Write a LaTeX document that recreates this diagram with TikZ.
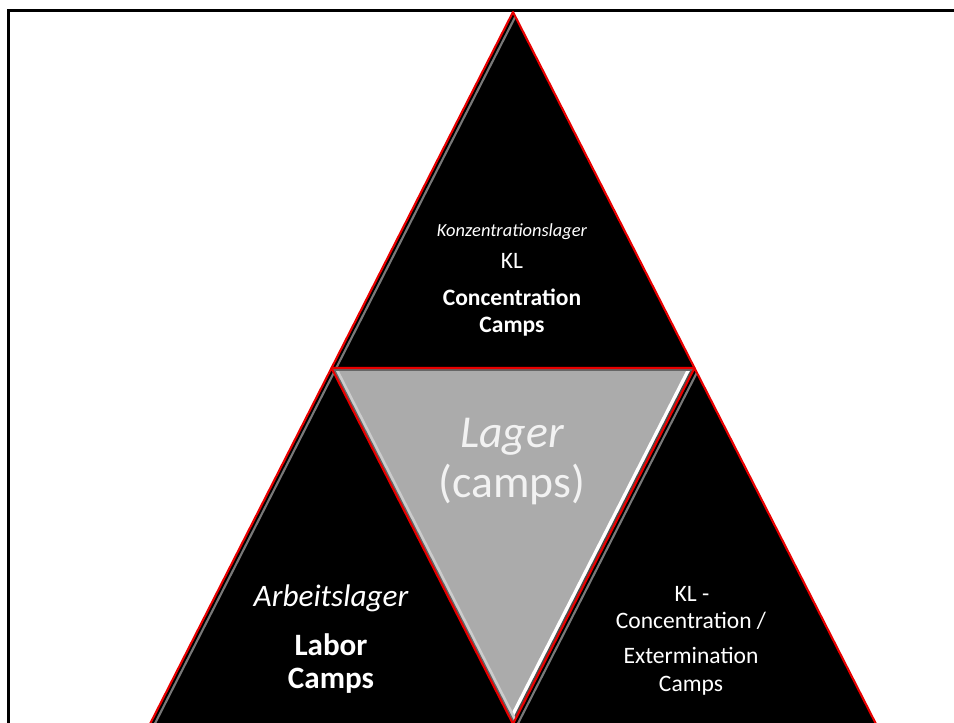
\documentclass[tikz,border=0pt]{standalone}
\usepackage{fontspec}
\setmainfont{Carlito}
\usetikzlibrary{calc}
\definecolor{edgered}{RGB}{232,0,0}
\definecolor{campgray}{RGB}{171,171,171}
\definecolor{bevelgray}{RGB}{120,120,120}
\begin{document}
\begin{tikzpicture}[x=0.02cm,y=-0.02cm,
	edge/.style={draw=edgered,line width=1.2pt,line join=round},
	lbl/.style={text=white,inner sep=0pt,anchor=base}]
	\useasboundingbox (0,0) rectangle (954,723);
	\clip (0,0) rectangle (954,723);
	\draw[line width=1.7pt] (1000,10.5) -- (8.5,10.5) -- (8.5,800);
	\coordinate (A) at (513,12);
	\coordinate (D) at (150,724);
	\coordinate (F) at (876,724);
	\coordinate (B) at ($(A)!0.5!(D)$);
	\coordinate (C) at ($(A)!0.5!(F)$);
	\coordinate (E) at ($(D)!0.5!(F)$);
	\begin{scope}
		\clip (A) -- (B) -- (C) -- cycle;
		\fill (A) -- (B) -- (C) -- cycle;
		\draw[bevelgray,line width=6pt] (A) -- (B);
		\draw[black,line width=3.4pt] (A) -- (B);
	\end{scope}
	\begin{scope}
		\clip (B) -- (D) -- (E) -- cycle;
		\fill (B) -- (D) -- (E) -- cycle;
		\draw[bevelgray,line width=6pt] (B) -- (D);
		\draw[black,line width=3.4pt] (B) -- (D);
	\end{scope}
	\begin{scope}
		\clip (C) -- (E) -- (F) -- cycle;
		\fill (C) -- (E) -- (F) -- cycle;
		\draw[bevelgray,line width=6pt] (C) -- (E);
		\draw[black,line width=3.4pt] (C) -- (E);
	\end{scope}
	\begin{scope}
		\clip (B) -- (C) -- (E) -- cycle;
		\fill[campgray] (B) -- (C) -- (E) -- cycle;
		\draw[white,line width=7pt] (C) -- (E);
		\draw[black!70,line width=3pt] (C) -- (E);
		\draw[gray!40,line width=6pt] (B) -- (E);
		\draw[black!60,line width=2.8pt] (B) -- (E);
		\draw[black!60,line width=3pt] (B) -- (C);
	\end{scope}
	\draw[edge] (A) -- (B) -- (C) -- cycle;
	\draw[edge] (D) -- (B) -- (E) -- (C) -- (F);
	\node[lbl,font=\fontsize{10.5}{12}\selectfont\itshape] (kzl) at (512,236) {Konzentrationslager};
	\node[lbl,font=\fontsize{13.4}{15}\selectfont] (kl) at (512,268) {KL};
	\node[lbl,font=\fontsize{13.4}{15}\selectfont\bfseries] (cc1) at (512,305) {Concentration};
	\node[lbl,font=\fontsize{13.4}{15}\selectfont\bfseries] (cc2) at (512,332) {Camps};
	\node[lbl,text=white!95!black,font=\fontsize{26}{30}\selectfont\itshape] (lag) at (512,447) {Lager};
	\node[lbl,text=white!95!black,font=\fontsize{26}{30}\selectfont] (camps) at (512,497) {(camps)};
	\node[lbl,font=\fontsize{17.8}{20}\selectfont\itshape] (arb) at (331,606) {Arbeitslager};
	\node[lbl,font=\fontsize{17.7}{20}\selectfont\bfseries] (lab1) at (331,655) {Labor};
	\node[lbl,font=\fontsize{17.7}{20}\selectfont\bfseries] (lab2) at (331,688) {Camps};
	\node[lbl,font=\fontsize{13.4}{15}\selectfont] (ext1) at (692,601) {KL -};
	\node[lbl,font=\fontsize{13.4}{15}\selectfont] (ext2) at (691,628) {Concentration /};
	\node[lbl,font=\fontsize{13.4}{15}\selectfont] (ext3) at (691,663) {Extermination};
	\node[lbl,font=\fontsize{13.4}{15}\selectfont] (ext4) at (691,691) {Camps};
\end{tikzpicture}
\end{document}
